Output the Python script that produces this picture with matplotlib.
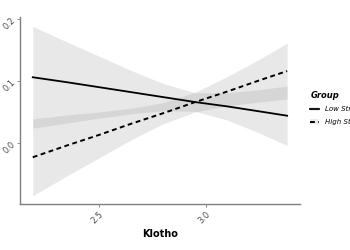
import matplotlib
matplotlib.use("Agg")
import matplotlib.pyplot as plt
from matplotlib.patches import Patch

# значения
klotho = [2.19, 2.35, 2.5, 2.65, 2.8, 2.95, 3.1, 3.25, 3.38]

low_fit = [0.106, 0.098, 0.090, 0.082, 0.074, 0.066, 0.059, 0.051, 0.044]
low_upper = [0.188, 0.163, 0.140, 0.117, 0.096, 0.081, 0.081, 0.086, 0.092]
low_lower = [0.024, 0.032, 0.040, 0.047, 0.052, 0.051, 0.037, 0.016, -0.004]

high_fit = [-0.023, -0.004, 0.013, 0.031, 0.048, 0.066, 0.083, 0.101, 0.116]
high_upper = [0.039, 0.045, 0.050, 0.056, 0.065, 0.082, 0.107, 0.135, 0.161]
high_lower = [-0.085, -0.053, -0.024, 0.005, 0.031, 0.050, 0.060, 0.066, 0.071]

group_labels = ["Low Stress", "High Stress"]
x_ticks = [2.5, 3.0]
y_ticks = [0.0, 0.1, 0.2]

fig = plt.figure(figsize=(3.5, 2.5), dpi=100)
ax = fig.add_axes([0.057, 0.185, 0.80, 0.749])

ax.fill_between(klotho, low_lower, low_upper, color="#999999", alpha=0.22, lw=0)
ax.fill_between(klotho, high_lower, high_upper, color="#999999", alpha=0.22, lw=0)
l1, = ax.plot(klotho, low_fit, color="black", lw=1.3, label=group_labels[0])
l2, = ax.plot(klotho, high_fit, color="black", lw=1.4, ls=(0, (2.5, 1.8)), label=group_labels[1])

ax.set_xlim(2.13, 3.44)
ax.set_ylim(-0.098, 0.204)
ax.set_xticks(x_ticks)
ax.set_xticklabels([f"{v:.1f}" for v in x_ticks], rotation=45, ha="right",
                   va="top", rotation_mode="anchor", fontsize=6, color="#4d4d4d")
ax.set_yticks(y_ticks)
ax.set_yticklabels([f"{v:.1f}" for v in y_ticks], rotation=45, ha="right",
                   va="center", rotation_mode="anchor", fontsize=6, color="#4d4d4d")
ax.tick_params(length=2, width=0.6, color="#7f7f7f", pad=2)

for s in ["top", "right"]:
    ax.spines[s].set_visible(False)
for s in ["left", "bottom"]:
    ax.spines[s].set_color("#7f7f7f")
    ax.spines[s].set_linewidth(1.0)

ax.set_xlabel("Klotho", fontsize=7, fontweight="bold", labelpad=3)

key = Patch(facecolor="#ebebeb", edgecolor="none")
leg = fig.legend([(key, l1), (key, l2)], group_labels, loc="upper left",
                 bbox_to_anchor=(0.879, 0.648), frameon=False, fontsize=5,
                 title="Group", handlelength=1.2, handletextpad=0.9,
                 labelspacing=0.95, borderaxespad=0)
leg.get_title().set_fontsize(6)
leg.get_title().set_fontweight("bold")
leg.get_title().set_fontstyle("italic")
leg._legend_box.align = "left"
for t in leg.get_texts():
    t.set_fontstyle("italic")

fig.savefig("out.png", dpi=100)
